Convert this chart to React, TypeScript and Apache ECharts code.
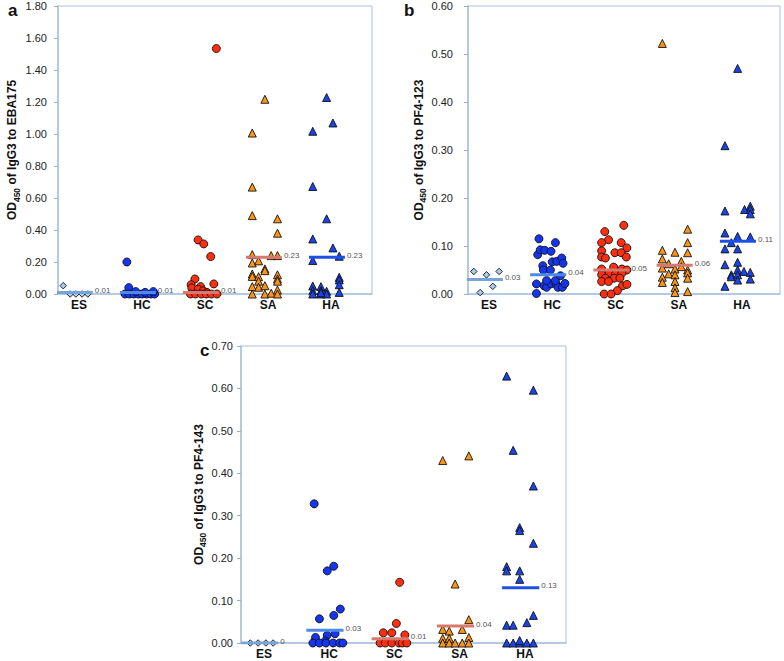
import React, { useEffect, useRef } from 'react';
import * as echarts from 'echarts';

const CATEGORIES = ['ES', 'HC', 'SC', 'SA', 'HA'];

// [jitter offset (category units), OD450]
const A_ES = [[-0.25, 0.052], [-0.14, 0], [-0.05, 0], [0.05, 0], [0.14, 0]];
const A_HC = [[-0.24, 0.2], [-0.21, 0.04], [-0.27, 0], [-0.2, 0], [-0.13, 0], [-0.06, 0], [0.0, 0], [0.07, 0], [0.14, 0], [0.2, 0], [-0.1, 0.015], [0.05, 0.01], [0.18, 0.015]];
const A_SC = [[0.18, 1.534], [-0.11, 0.338], [-0.02, 0.313], [0.09, 0.234], [-0.16, 0.094], [0.14, 0.063], [-0.22, 0.058], [-0.21, 0.038], [-0.07, 0.046], [-0.11, 0.03], [-0.03, 0.02], [0.03, 0.01], [-0.23, 0], [-0.15, 0], [-0.06, 0], [0.02, 0], [0.1, 0], [0.19, 0]];
const A_SA = [[-0.05, 1.217], [-0.25, 1.006], [-0.25, 0.668], [-0.25, 0.49], [0.15, 0.47], [0.15, 0.38], [-0.25, 0.246], [0.05, 0.24], [0.15, 0.24], [-0.25, 0.194], [-0.15, 0.207], [-0.05, 0.157], [-0.05, 0.146], [-0.25, 0.125], [-0.25, 0.11], [-0.15, 0.108], [0.15, 0.12], [0.15, 0.094], [0.15, 0.08], [-0.15, 0.08], [-0.25, 0.046], [-0.15, 0.042], [-0.05, 0.052], [0.15, 0.025], [-0.25, 0], [-0.05, 0], [0.05, 0.005], [0.15, 0]];
const A_HA = [[-0.07, 1.228], [0.03, 1.069], [-0.29, 1.017], [-0.29, 0.672], [-0.07, 0.47], [-0.29, 0.344], [0.03, 0.288], [0.13, 0.236], [-0.29, 0.209], [0.13, 0.104], [0.13, 0.088], [0.13, 0.058], [0.13, 0.01], [-0.29, 0.05], [-0.16, 0.046], [-0.29, 0.02], [-0.16, 0.02], [-0.07, 0.017], [-0.29, 0], [-0.16, 0], [-0.07, 0], [-0.16, 0.008]];
const A_MEANS = [0.01, 0.01, 0.01, 0.23, 0.23];

const B_ES = [[-0.24, 0.047], [-0.04, 0.04], [0.16, 0.047], [0.06, 0.016], [-0.14, 0.003]];
const B_HC = [[-0.21, 0.115], [0.05, 0.107], [-0.23, 0.082], [-0.19, 0.092], [-0.12, 0.091], [-0.02, 0.089], [-0.15, 0.059], [-0.14, 0.05], [-0.03, 0.05], [0.0, 0.067], [0.07, 0.068], [0.15, 0.075], [0.17, 0.064], [-0.25, 0.021], [-0.13, 0.017], [-0.09, 0.014], [-0.02, 0.021], [0.06, 0.021], [0.09, 0.014], [0.16, 0.014], [0.2, 0.022], [-0.09, 0.028], [0.05, 0.028], [-0.25, 0.001], [0.13, 0.038]];
const B_SC = [[0.13, 0.143], [-0.17, 0.13], [-0.11, 0.113], [-0.22, 0.107], [0.09, 0.107], [0.18, 0.096], [-0.22, 0.09], [-0.01, 0.086], [0.09, 0.086], [-0.22, 0.077], [-0.16, 0.075], [0.17, 0.077], [-0.22, 0.052], [-0.03, 0.056], [0.1, 0.052], [0.18, 0.05], [-0.1, 0.043], [0.0, 0.042], [0.1, 0.043], [-0.22, 0.04], [-0.16, 0.033], [-0.02, 0.033], [0.07, 0.033], [-0.22, 0.026], [-0.11, 0.026], [0.11, 0.017], [0.18, 0.02], [0.03, 0.007], [-0.18, 0.0], [-0.07, 0.0]];
const B_SA = [[-0.26, 0.522], [0.14, 0.135], [0.14, 0.107], [-0.26, 0.091], [-0.06, 0.087], [0.14, 0.086], [-0.26, 0.073], [0.04, 0.068], [-0.16, 0.063], [-0.26, 0.054], [-0.06, 0.052], [0.04, 0.057], [0.14, 0.05], [-0.16, 0.042], [-0.06, 0.04], [0.14, 0.044], [-0.26, 0.035], [0.14, 0.033], [-0.26, 0.024], [-0.06, 0.026], [-0.06, 0.013], [-0.06, 0.003], [0.14, 0.005]];
const B_HA = [[-0.07, 0.47], [-0.27, 0.309], [-0.27, 0.173], [0.04, 0.176], [0.13, 0.183], [0.13, 0.176], [0.13, 0.167], [-0.27, 0.127], [-0.07, 0.12], [0.13, 0.119], [-0.17, 0.107], [-0.27, 0.094], [-0.07, 0.094], [-0.27, 0.061], [-0.07, 0.066], [-0.17, 0.04], [-0.17, 0.036], [-0.07, 0.05], [-0.07, 0.04], [0.03, 0.047], [0.13, 0.045], [-0.07, 0.029], [0.13, 0.031], [-0.27, 0.016]];
const B_MEANS = [0.03, 0.04, 0.05, 0.06, 0.11];

const C_ES = [[-0.21, 0], [-0.09, 0], [0.03, 0], [0.14, 0]];
const C_HC = [[-0.23, 0.328], [-0.03, 0.17], [0.07, 0.181], [-0.15, 0.057], [0.07, 0.065], [0.17, 0.08], [-0.21, 0.013], [-0.03, 0.018], [0.09, 0.022], [-0.06, 0.005], [-0.25, 0], [-0.15, 0], [-0.05, 0], [0.06, 0], [0.16, 0], [0.21, 0]];
const C_SC = [[0.08, 0.143], [0.03, 0.046], [-0.17, 0.024], [-0.04, 0.024], [0.16, 0.019], [-0.22, 0], [-0.14, 0], [-0.04, 0], [0.07, 0], [0.12, 0], [0.19, 0]];
const C_SA = [[-0.26, 0.43], [0.14, 0.441], [-0.07, 0.139], [0.14, 0.055], [-0.26, 0.032], [-0.16, 0.028], [0.04, 0.032], [-0.26, 0.011], [-0.16, 0.011], [0.14, 0.013], [-0.26, 0], [-0.16, 0], [-0.07, 0], [0.04, 0], [0.14, 0]];
const C_HA = [[-0.28, 0.629], [0.13, 0.596], [-0.18, 0.454], [0.13, 0.37], [-0.08, 0.272], [-0.08, 0.265], [0.13, 0.235], [-0.28, 0.18], [-0.28, 0.17], [-0.08, 0.17], [-0.08, 0.15], [-0.28, 0.042], [-0.18, 0.042], [0.03, 0.048], [0.13, 0.065], [-0.28, 0], [-0.18, 0], [-0.08, 0], [0.03, 0], [0.13, 0], [-0.08, 0.006]];
const C_MEANS = [0, 0.03, 0.01, 0.04, 0.13];

const FONT = 'Liberation Sans';
const BORDER = '#a9c1de';

const GROUP_STYLE = [
  { symbol: 'diamond', size: 6.5, color: '#a9ccf2', line: '#76a3d8' },
  { symbol: 'circle', size: 8, color: '#1436f2', line: '#4d8ae8' },
  { symbol: 'circle', size: 8, color: '#ff2e0e', line: '#d7796e' },
  { symbol: 'triangle', size: 8, color: '#ff9414', line: '#d7796e' },
  { symbol: 'triangle', size: 8, color: '#1844ea', line: '#1e50e6' },
];

const PANELS = [
  { letter: 'a', lx: 8, ly: 10, grid: { left: 58, top: 6, width: 314, height: 288 }, xmin: 0.667, xmax: 5.65, ymax: 1.8, yint: 0.2, target: 'EBA175', groups: [A_ES, A_HC, A_SC, A_SA, A_HA], means: A_MEANS, nameGap: 37, labelMargin: 11 },
  { letter: 'b', lx: 404, ly: 10, grid: { left: 468, top: 6, width: 312, height: 288 }, xmin: 0.668, xmax: 5.6, ymax: 0.6, yint: 0.1, target: 'PF4-123', groups: [B_ES, B_HC, B_SC, B_SA, B_HA], means: B_MEANS, nameGap: 37, labelMargin: 15 },
  { letter: 'c', lx: 200, ly: 350, grid: { left: 241, top: 346, width: 325, height: 297 }, xmin: 0.648, xmax: 5.63, ymax: 0.7, yint: 0.1, target: 'PF4-143', groups: [C_ES, C_HC, C_SC, C_SA, C_HA], means: C_MEANS, nameGap: 33, labelMargin: 8 },
];

function buildOption() {
  const grid: any[] = [];
  const xAxis: any[] = [];
  const yAxis: any[] = [];
  const series: any[] = [];
  const graphic: any[] = [];
  PANELS.forEach((p, pi) => {
    grid.push({ ...p.grid, show: true, borderColor: BORDER, borderWidth: 1, containLabel: false });
    xAxis.push({
      type: 'value', gridIndex: pi, min: p.xmin, max: p.xmax,
      axisLine: { show: true, lineStyle: { color: BORDER, width: 1.5 } },
      axisTick: { show: false },
      splitLine: { show: false },
      axisLabel: {
        customValues: [1, 2, 3, 4, 5],
        formatter: (v: number) => CATEGORIES[Math.round(v) - 1] || '',
        fontFamily: FONT, fontWeight: 'bold', fontSize: 12, color: '#111', margin: 5,
      },
    });
    yAxis.push({
      type: 'value', gridIndex: pi, min: 0, max: p.ymax, interval: p.yint,
      axisLine: { show: true, lineStyle: { color: BORDER, width: 1.5 } },
      axisTick: { show: true, length: 4, lineStyle: { color: '#9aaec6' } },
      splitLine: { show: false },
      axisLabel: { formatter: (v: number) => v.toFixed(2), fontFamily: FONT, fontSize: 11, color: '#222', margin: p.labelMargin },
      name: '{a|OD}{b|450}{a| of IgG3 to ' + p.target + '}',
      nameLocation: 'middle', nameGap: p.nameGap, nameRotate: 90,
      nameTextStyle: {
        rich: {
          a: { fontFamily: FONT, fontWeight: 'bold', fontSize: 12, color: '#111', lineHeight: 18 },
          b: { fontFamily: FONT, fontWeight: 'bold', fontSize: 8.5, color: '#111', lineHeight: 9, verticalAlign: 'bottom' },
        },
      },
    });
    p.groups.forEach((g, gi) => {
      const st = GROUP_STYLE[gi];
      series.push({
        type: 'scatter', xAxisIndex: pi, yAxisIndex: pi, z: 2,
        symbol: st.symbol, symbolSize: st.size,
        itemStyle: { color: st.color, borderColor: '#111', borderWidth: 0.9, opacity: 1 },
        data: g.map(([dx, v]) => [gi + 1 + dx, v]),
      });
      const m = p.means[gi];
      const txt = m === 0 ? '0' : m.toFixed(2);
      series.push({
        type: 'line', xAxisIndex: pi, yAxisIndex: pi, z: 3, symbol: 'none',
        lineStyle: { color: st.line, width: 3 },
        endLabel: {
          show: true, formatter: () => txt, distance: 2, offset: [0, -2],
          fontFamily: FONT, fontSize: 8, color: '#555',
        },
        data: [[gi + 1 - 0.35, m], [gi + 1 + 0.22, m]],
      });
    });
    graphic.push({
      type: 'text', left: p.lx, top: p.ly - 8,
      style: { text: p.letter, font: 'bold 17px "Liberation Sans"', fill: '#111' },
    });
  });
  return { animation: false, grid, xAxis, yAxis, series, graphic };
}

export default function App() {
  const ref = useRef<HTMLDivElement>(null);
  useEffect(() => {
    const chart = echarts.init(ref.current!, null, { renderer: 'svg' });
    chart.setOption(buildOption() as any);
    return () => chart.dispose();
  }, []);
  return <div ref={ref} style={{ position: 'fixed', left: 0, top: 0, width: 784, height: 661, background: '#fff' }} />;
}
